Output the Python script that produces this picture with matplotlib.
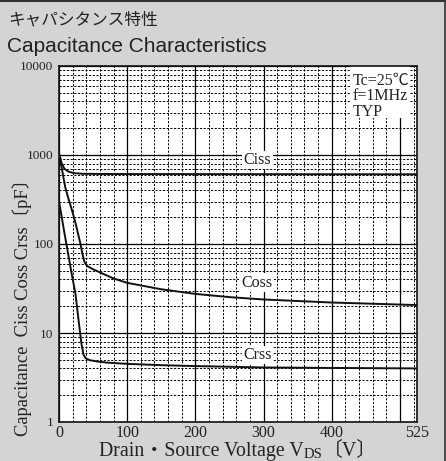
import numpy as np
import matplotlib
matplotlib.use("Agg")
import matplotlib.pyplot as plt
from matplotlib.lines import Line2D
from matplotlib.patches import Rectangle
from matplotlib.ticker import FixedLocator, NullFormatter

# Data (VDS in V, capacitance in pF)
ciss_v = [0, 1.5, 4, 8, 14, 22, 35, 60, 100, 200, 300, 400, 525]
ciss_c = [1050, 950, 800, 700, 650, 625, 615, 612, 611, 610, 609, 608, 607]

coss_v = [0, 4, 9, 14, 19, 24, 28, 31, 34, 37, 40, 44, 50, 60, 80, 100, 150, 200, 250, 300, 400, 525]
coss_c = [1000, 714, 440, 320, 240, 175, 130, 104, 80, 64, 58, 55, 52, 48, 41, 36.6, 31, 27.5, 25.3, 23.8, 22, 20.6]

crss_v = [0, 3, 6, 9, 12, 15, 18, 21, 24, 27, 30, 33, 36, 39, 45, 55, 70, 100, 150, 200, 300, 400, 525]
crss_c = [300, 222, 163, 120, 89, 66, 49, 37, 28, 18, 11.5, 7.5, 5.7, 5.2, 4.95, 4.8, 4.65, 4.5, 4.35, 4.25, 4.1, 4.05, 4.0]

xtick_vals = [0, 100, 200, 300, 400, 525]
ytick_vals = [1, 10, 100, 1000, 10000]
ytick_labels = ["1", "10", "100", "1000", "10000"]

# curve label positions (V, pF)
curve_labels = ["Ciss", "Coss", "Crss"]
label_pos = [(291, 880), (291, 36.6), (291, 5.66)]

bg = "#d4d4d6"
ink = "#222222"
serif = ["Liberation Serif", "Noto Sans CJK JP"]

fig = plt.figure(figsize=(4.46, 4.61), dpi=100, facecolor=bg)
ax = fig.add_axes([59 / 446, 1 - 422 / 461, 358 / 446, 356 / 461])
ax.set_facecolor("white")

ax.set_xlim(0, 525)
ax.set_yscale("log")
ax.set_ylim(1, 10000)

# grid: solid every 100 V / decade, dashed every 20 V / 2..9
ax.xaxis.set_major_locator(FixedLocator(np.arange(0, 501, 100)))
ax.xaxis.set_minor_locator(FixedLocator([v for v in range(20, 525, 20) if v % 100]))
ax.xaxis.set_major_formatter(NullFormatter())
ax.yaxis.set_major_locator(FixedLocator(ytick_vals))
ax.yaxis.set_minor_locator(FixedLocator([m * 10 ** d for d in range(4) for m in range(2, 10)]))
ax.yaxis.set_minor_formatter(NullFormatter())
ax.set_yticklabels(ytick_labels, family=serif, fontsize=9.5, color=ink)

ax.grid(which="major", color="black", linewidth=0.9, linestyle="-")
ax.grid(which="minor", color="black", linewidth=0.7, linestyle=(0, (2.2, 1.6)))
ax.tick_params(which="both", length=0)
ax.tick_params(axis="y", pad=4)
for s in ax.spines.values():
    s.set_linewidth(1.2)
    s.set_color("#111111")

# x tick labels (525 at right edge, no 500)
for v in xtick_vals:
    ax.annotate(str(v), xy=(v, 0), xycoords=("data", "axes fraction"),
                xytext=(0, -2.5), textcoords="offset points", ha="center", va="top",
                family=serif, fontsize=11.5, color=ink)

ax.plot(ciss_v, ciss_c, color="#111111", lw=1.4, zorder=3)
ax.plot(coss_v, coss_c, color="#111111", lw=1.4, zorder=3)
ax.plot(crss_v, crss_c, color="#111111", lw=1.4, zorder=3)

for name, (x, y) in zip(curve_labels, label_pos):
    ax.text(x, y, name, ha="center", va="center", family=serif, fontsize=11.5, color=ink,
            zorder=4, bbox=dict(facecolor="white", edgecolor="none", pad=1.0))

# condition box
ax.add_patch(Rectangle((0.813, 0.853), 0.167, 0.147, transform=ax.transAxes,
                       facecolor="white", edgecolor="none", zorder=2.5))
ax.text(0.82, 0.982, "Tc=25℃\nf=1MHz\nTYP", transform=ax.transAxes, ha="left", va="top",
        family=serif, fontsize=11.5, color=ink, linespacing=1.0, zorder=4)

# titles
fig.text(8 / 446, 1 - 20 / 461, "キャパシタンス特性", ha="left", va="center",
         family=["Noto Sans CJK JP"], fontsize=12, color=ink)
fig.text(7 / 446, 1 - 46 / 461, "Capacitance Characteristics", ha="left", va="center",
         family=["Liberation Sans"], fontsize=15, color=ink)

# y label
fig.text(22 / 446, 1 - 303 / 461, "Capacitance  Ciss Coss Crss〔pF〕", rotation=90,
         ha="center", va="center", family=serif, fontsize=13.3, color=ink)

# x label, built from pieces for the small "DS"
t1 = fig.text(99 / 446, 1 - 456 / 461, "Drain・Source Voltage V", ha="left", va="baseline",
              family=serif, fontsize=14.3, color=ink)
t2 = ax.annotate("DS", xy=(1, 0), xycoords=t1, ha="left", va="bottom",
                 family=serif, fontsize=10.5, color=ink, annotation_clip=False)
ax.annotate("〔V〕", xy=(1, 0), xycoords=t2, ha="left", va="bottom",
            family=serif, fontsize=14.3, color=ink, annotation_clip=False)

# frame edges of the panel
fig.add_artist(Line2D([0, 1], [1 - 1 / 461, 1 - 1 / 461], transform=fig.transFigure,
                      color="#333333", lw=1.5))
fig.add_artist(Line2D([1 - 1 / 446, 1 - 1 / 446], [0, 1], transform=fig.transFigure,
                      color="#333333", lw=1.2))

fig.savefig("out.png", dpi=100, facecolor=bg)
